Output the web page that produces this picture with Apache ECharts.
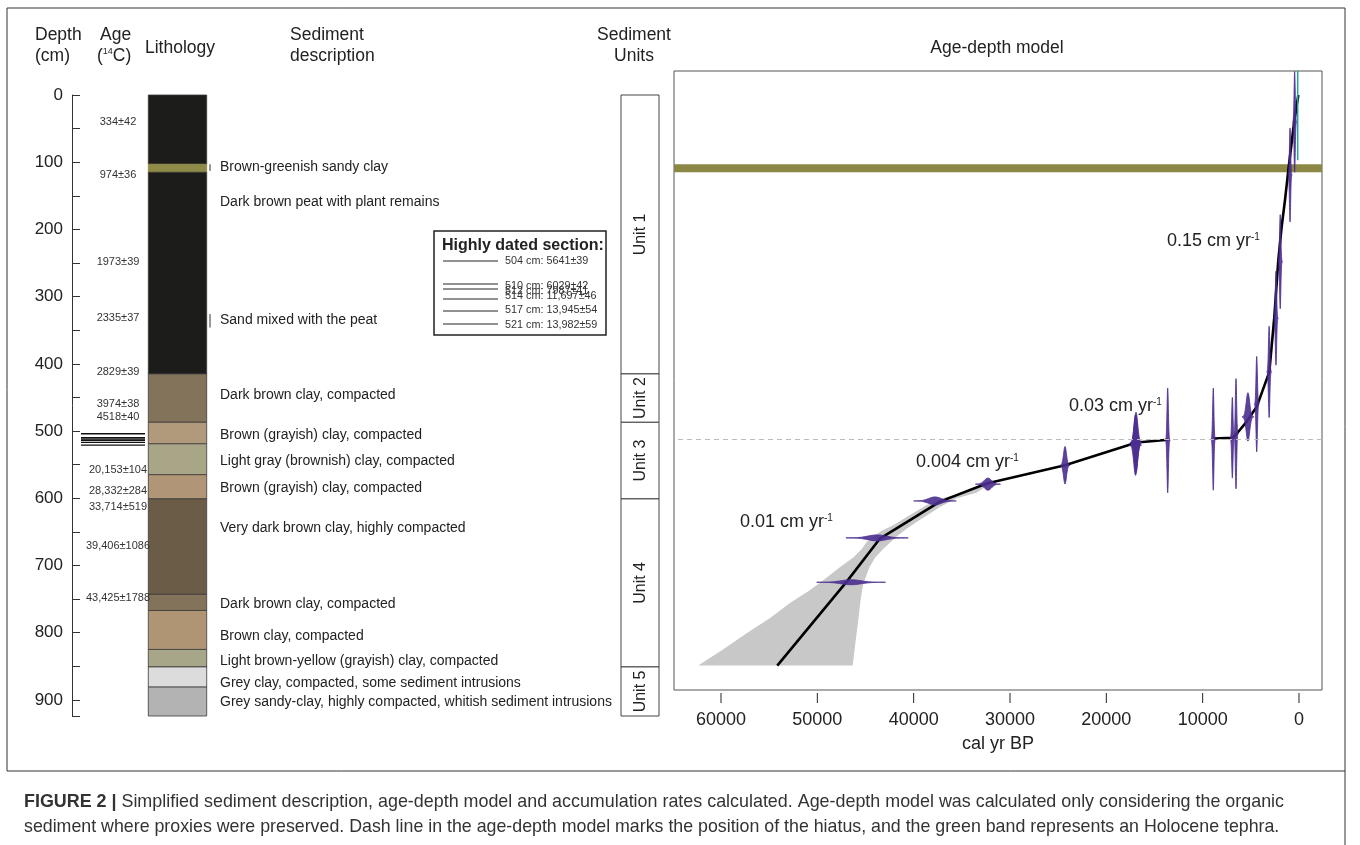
<!DOCTYPE html>
<html><head><meta charset="utf-8">
<script src="https://cdn.jsdelivr.net/npm/echarts@6/dist/echarts.min.js"></script>
<style>html,body{margin:0;padding:0;background:#fff}#c{width:1360px;height:845px}</style>
</head><body><div id="c"></div>
<script>
const FONT = '"Liberation Sans", Arial, Helvetica, sans-serif';
const INK = '#222';

// ---------- left panel: depth axis ----------
const depthTicks = [0,50,100,150,200,250,300,350,400,450,500,550,600,650,700,750,800,850,900,924];
const depthLabels = [0,100,200,300,400,500,600,700,800,900];

// ---------- lithology ----------
const lithTop    = [0,   103,   115, 415,     487,     519,     565,     601,      743,     767,   825,      851,  881];
const lithBottom = [103, 115,   415, 487,     519,     565,     601,     743,      767,     825,   851,      881,  924];
const lithType   = ['peat','tephra','peat','dkbrown','brgray','ltgray','brgray2','vdkbrown','dkbrown','brown','ltyellow','grey','greysandy'];
const lithColors = {peat:'#1c1c1a', tephra:'#8f8a48', dkbrown:'#83735a', brgray:'#b19a7b', ltgray:'#a9a688',
  brgray2:'#b09676', vdkbrown:'#6b5c48', brown:'#b09574', ltyellow:'#a8a688', grey:'#dcdcdc', greysandy:'#b3b3b3'};

// ---------- radiocarbon ages in the age column ----------
const ageLabelDepths = [40, 119, 248, 332, 412, 460, 479, 558, 589, 613, 671, 748];
const ageLabels = ['334±42','974±36','1973±39','2335±37','2829±39','3974±38','4518±40','20,153±104','28,332±284','33,714±519','39,406±1086','43,425±1788'];

// highly dated section
const highlyDatedDepths = [504, 510, 512, 514, 517, 521];
const highlyDatedAges = ['5641±39','6029±42','7987±41','11,697±46','13,945±54','13,982±59'];

// ---------- sediment description ----------
const descDepths = [107, 159, 335, 446, 506, 545, 585, 645, 757, 805, 842, 875, 903];
const descTexts = ['Brown-greenish sandy clay','Dark brown peat with plant remains','Sand mixed with the peat',
  'Dark brown clay, compacted','Brown (grayish) clay, compacted','Light gray (brownish) clay, compacted',
  'Brown (grayish) clay, compacted','Very dark brown clay, highly compacted','Dark brown clay, compacted',
  'Brown clay, compacted','Light brown-yellow (grayish) clay, compacted','Grey clay, compacted, some sediment intrusions',
  'Grey sandy-clay, highly compacted, whitish sediment intrusions'];
const thinLayerTop = [103, 326];
const thinLayerBottom = [113, 346];

// ---------- sediment units ----------
const unitNames = ['Unit 1','Unit 2','Unit 3','Unit 4','Unit 5'];
const unitTop = [0, 415, 487, 601, 851];
const unitBottom = [415, 487, 601, 851, 924];

// ---------- age-depth model ----------
const ageTicks = [0,10000,20000,30000,40000,50000,60000];
const meanAge   = [70, 520, 1110, 1450, 1800, 2150, 2390, 2560, 3080, 4390, 5430, 6640, 6890, 8900, null, 13570, 16850, 24290, 32420, 37270, 43500, 46950, 54160];
const meanDepth = [0,  42,  112,  156,  196,  246,  295,  330,  412,  464,  486,  507,  510,  511,  null, 513,   517,   551,   578,   605,   660,   724,   849];
const bandLeftAge    = [62360, 59800, 57340, 54900, 52840, 50900, 49380, 47700, 46270, 45400, 44880, 43500, 42000, 40730, 38650, 36570, 34000, 32000];
const bandLeftDepth  = [849,   825,   801,   778,   756,   738,   722,   703,   688,   676,   665,   650,   639,   628,   610,   598,   588,   576];
const bandRightAge   = [32000, 33500, 35530, 37270, 39340, 40700, 41760, 43150, 44000, 44600, 45230, 45500, 45750, 46050, 46330];
const bandRightDepth = [578,   592,   600,   613,   632,   645,   657,   675,   688,   703,   727,   750,   781,   815,   849];
// calibrated date distributions: centre age, depth, spread (yr), drawn height (cm)
const dateAge    = [450, 930, 1950, 2390, 3100, 4390, 5300, 6540, 6920, 8900, 13630, 16920, 16970, 24290, 32290, 37790, 43800, 46500];
const dateDepth  = [40,  119, 248,  332,  412,  460,  479,  504,  510,  512,  514,   517,   521,   551,   579,   604,   659,   725];
const dateSpread = [60,  60,  65,   65,   70,   70,   180,  65,   65,   65,   70,    180,   180,   150,   380,   650,   950,   1050];
const dateHeight = [75,  70,  70,   70,   68,   71,   36,   82,   60,   76,   78,    45,    45,    28,    9,     6,     4.5,   3.7];
const tephraTop = 103, tephraBottom = 115;
const hiatusDepth = 512;
const surfaceAge = 135, surfaceTop = -36, surfaceBottom = 97;
const rateLabels = ['0.15 cm yr','0.03 cm yr','0.004 cm yr','0.01 cm yr'];

// ================= build =================
const chart = echarts.init(document.getElementById('c'));

function leftText(xOff, depths, texts, style) {
  return {
    type: 'custom', xAxisIndex: 0, yAxisIndex: 0, silent: true, z: 5,
    data: depths.map((d) => [xOff, d]),
    renderItem(params, api) {
      const p = api.coord([api.value(0), api.value(1)]);
      return {type: 'text', x: p[0], y: p[1],
        style: Object.assign({text: texts[params.dataIndex], fontFamily: FONT, fill: INK, verticalAlign: 'middle'}, style)};
    }
  };
}

// mean line split at the hiatus
const meanSegments = [[]];
meanAge.forEach((a, i) => {
  if (a === null) meanSegments.push([]);
  else meanSegments[meanSegments.length - 1].push([a, meanDepth[i]]);
});

const series = [
  // lithology column
  {
    type: 'custom', xAxisIndex: 0, yAxisIndex: 0, silent: true, z: 2,
    data: lithTop.map((t, i) => [t, lithBottom[i]]),
    renderItem(params, api) {
      const p1 = api.coord([76.3, api.value(0)]), p2 = api.coord([134.7, api.value(1)]);
      const tp = lithType[params.dataIndex];
      return {type: 'rect', shape: {x: p1[0], y: p1[1], width: p2[0] - p1[0], height: p2[1] - p1[1]},
        style: {fill: lithColors[tp], stroke: tp === 'tephra' ? lithColors[tp] : '#3a3a3a', lineWidth: 0.8}};
    }
  },
  // sediment units
  {
    type: 'custom', xAxisIndex: 0, yAxisIndex: 0, silent: true, z: 2,
    data: unitTop.map((t, i) => [t, unitBottom[i]]),
    renderItem(params, api) {
      const p1 = api.coord([549, api.value(0)]), p2 = api.coord([587, api.value(1)]);
      return {type: 'group', children: [
        {type: 'rect', shape: {x: p1[0], y: p1[1], width: p2[0] - p1[0], height: p2[1] - p1[1]},
          style: {fill: '#fff', stroke: '#444', lineWidth: 1}},
        {type: 'text', x: (p1[0] + p2[0]) / 2 + 1, y: (p1[1] + p2[1]) / 2, rotation: Math.PI / 2,
          style: {text: unitNames[params.dataIndex], align: 'center', verticalAlign: 'middle', fontSize: 16, fontFamily: FONT, fill: INK}}
      ]};
    }
  },
  // highly dated depths in age column
  {
    type: 'custom', xAxisIndex: 0, yAxisIndex: 0, silent: true, z: 3,
    data: highlyDatedDepths.map((d) => [d]),
    renderItem(params, api) {
      const p1 = api.coord([9, api.value(0)]), p2 = api.coord([73, api.value(0)]);
      return {type: 'line', shape: {x1: p1[0], y1: p1[1], x2: p2[0], y2: p2[1]}, style: {stroke: '#111', lineWidth: 1.3}};
    }
  },
  // thin layer marks beside lithology
  {
    type: 'custom', xAxisIndex: 0, yAxisIndex: 0, silent: true, z: 3,
    data: thinLayerTop.map((t, i) => [t, thinLayerBottom[i]]),
    renderItem(params, api) {
      const p1 = api.coord([138, api.value(0)]), p2 = api.coord([138, api.value(1)]);
      return {type: 'line', shape: {x1: p1[0], y1: p1[1], x2: p2[0], y2: p2[1]}, style: {stroke: '#333', lineWidth: 1}};
    }
  },
  leftText(46, ageLabelDepths, ageLabels, {fontSize: 11, align: 'center', fill: '#333'}),
  leftText(148, descDepths, descTexts, {fontSize: 14, align: 'left'}),

  // ---- model ----
  // uncertainty band
  {
    type: 'custom', xAxisIndex: 1, yAxisIndex: 1, silent: true, z: 1, clip: true,
    data: [[bandLeftAge[0], bandLeftDepth[0]]],
    renderItem(params, api) {
      const pts = [];
      bandLeftAge.forEach((a, i) => pts.push(api.coord([a, bandLeftDepth[i]])));
      bandRightAge.forEach((a, i) => pts.push(api.coord([a, bandRightDepth[i]])));
      return {type: 'polygon', shape: {points: pts}, style: {fill: '#c8c8c8', stroke: 'none'}};
    }
  },
  // age-axis ticks (drawn below the frame, like the original)
  {
    type: 'custom', xAxisIndex: 1, yAxisIndex: 1, silent: true, z: 2, clip: false,
    data: ageTicks.map((a) => [a]),
    renderItem(params, api) {
      const p = api.coord([api.value(0), 885.3]);
      return {type: 'line', shape: {x1: p[0], y1: p[1] + 3, x2: p[0], y2: p[1] + 13}, style: {stroke: '#222', lineWidth: 1}};
    }
  },
  // tephra band + hiatus line
  {
    type: 'line', xAxisIndex: 1, yAxisIndex: 1, data: [], silent: true, z: 2,
    markArea: {silent: true, itemStyle: {color: '#8c8744', opacity: 1}, data: [[{yAxis: tephraTop}, {yAxis: tephraBottom}]]},
    markLine: {silent: true, symbol: 'none', label: {show: false},
      lineStyle: {color: '#bdbdbd', type: [5, 4], width: 1}, data: [{yAxis: hiatusDepth}]}
  },
  ...meanSegments.map((seg) => ({
    type: 'line', xAxisIndex: 1, yAxisIndex: 1, data: seg, symbol: 'none', silent: true, z: 3,
    lineStyle: {color: '#000', width: 2.6}
  })),
  // date distributions
  {
    type: 'custom', xAxisIndex: 1, yAxisIndex: 1, silent: true, z: 4, clip: true,
    data: dateAge.map((a, i) => [a, dateDepth[i], dateSpread[i], dateHeight[i]]),
    renderItem(params, api) {
      const a = api.value(0), d = api.value(1), s = api.value(2), h = api.value(3);
      const N = 48, top = [], bot = [];
      for (let i = 0; i <= N; i++) {
        const t = -3.4 + 6.8 * i / N, g = h * Math.exp(-t * t / 2);
        top.push(api.coord([a + t * s, d - g]));
        bot.unshift(api.coord([a + t * s, d + g]));
      }
      return {type: 'polygon', shape: {points: top.concat(bot)},
        style: {fill: '#4b2d8f', stroke: '#4b2d8f', lineWidth: 0.9, opacity: 0.9}};
    }
  },
  // surface marker
  {
    type: 'line', xAxisIndex: 1, yAxisIndex: 1, symbol: 'none', silent: true, z: 5,
    data: [[surfaceAge, surfaceTop], [surfaceAge, surfaceBottom]], lineStyle: {color: '#1fa3a3', width: 1.5}
  }
];

const txt = (x, y, text, extra) => ({type: 'text', x, y, silent: true,
  style: Object.assign({text, fontFamily: FONT, fontSize: 17.5, fill: INK, verticalAlign: 'middle'}, extra || {})});
const line = (x1, y1, x2, y2, w, c) => ({type: 'line', silent: true, shape: {x1, y1, x2, y2}, style: {stroke: c || '#333', lineWidth: w || 1}});

const rate = (x, y, s) => ({type: 'text', x, y, silent: true,
  style: {text: '{b|' + s + '}{s|-1}', verticalAlign: 'middle', fill: INK,
    rich: {b: {fontSize: 18, fontFamily: FONT, fill: INK}, s: {fontSize: 10, fontFamily: FONT, fill: INK, verticalAlign: 'top'}}}});

// highly dated inset
const boxTexts = [];
const boxTextY = [261, 286, 291, 296, 310, 325];
const boxLineY = [261, 284, 289, 299, 311, 324];
highlyDatedDepths.forEach((d, i) => {
  boxTexts.push(line(443, boxLineY[i], 498, boxLineY[i], 1, '#222'));
  boxTexts.push(txt(505, boxTextY[i], d + ' cm: ' + highlyDatedAges[i], {fontSize: 10.8, fill: '#333'}));
});

const graphic = [
  // frame
  line(7, 8, 1345, 8), line(7, 8, 7, 771), line(1345, 8, 1345, 845), line(7, 771, 1345, 771),
  // headers
  txt(35, 35, 'Depth'), txt(35, 56, '(cm)'),
  txt(100, 35, 'Age'),
  {type: 'text', x: 97, y: 56, silent: true, style: {text: '{n|(}{s|14}{n|C)}', verticalAlign: 'middle',
    rich: {n: {fontSize: 17.5, fontFamily: FONT, fill: INK}, s: {fontSize: 9, fontFamily: FONT, fill: INK, verticalAlign: 'top'}}}},
  txt(145, 48, 'Lithology'),
  txt(290, 35, 'Sediment'), txt(290, 56, 'description'),
  txt(634, 35, 'Sediment', {align: 'center'}), txt(634, 56, 'Units', {align: 'center'}),
  txt(997, 48, 'Age-depth model', {align: 'center'}),
  // inset box
  {type: 'rect', silent: true, shape: {x: 434, y: 231, width: 172, height: 104}, style: {fill: '#fff', stroke: '#222', lineWidth: 1.5}},
  txt(442, 246, 'Highly dated section:', {fontSize: 16, fontWeight: 'bold'}),
  ...boxTexts,
  // accumulation rates
  rate(1167, 241, rateLabels[0]), rate(1069, 406, rateLabels[1]), rate(916, 462, rateLabels[2]), rate(740, 522, rateLabels[3]),
  // caption
  {type: 'text', x: 24, y: 802, silent: true, style: {
    text: '{b|FIGURE 2 |}{n| Simplified sediment description, age-depth model and accumulation rates calculated. Age-depth model was calculated only considering the organic}',
    verticalAlign: 'middle', rich: {b: {fontSize: 17.9, fontWeight: 'bold', fontFamily: FONT, fill: '#333'}, n: {fontSize: 17.9, fontFamily: FONT, fill: '#333'}}}},
  txt(24, 827, 'sediment where proxies were preserved. Dash line in the age-depth model marks the position of the hiatus, and the green band represents an Holocene tephra.', {fontSize: 17.8, fill: '#333'})
];

chart.setOption({
  animation: false,
  backgroundColor: '#fff',
  grid: [
    {left: 72, top: 95, width: 588, height: 621, show: false},
    {left: 674, top: 71, width: 648, height: 619, show: true, borderColor: '#555', borderWidth: 1, backgroundColor: 'transparent'}
  ],
  xAxis: [
    {gridIndex: 0, type: 'value', min: 0, max: 588, show: false},
    {gridIndex: 1, type: 'value', min: -2388, max: 64880, inverse: true, position: 'bottom',
      splitLine: {show: false}, axisLine: {show: false}, axisTick: {show: false},
      axisLabel: {customValues: ageTicks, fontSize: 18, fontFamily: FONT, color: INK, margin: 21, formatter: (v) => String(v)},
      name: 'cal yr BP', nameLocation: 'middle', nameGap: 45, nameTextStyle: {fontSize: 18, fontFamily: FONT, color: INK}}
  ],
  yAxis: [
    {gridIndex: 0, type: 'value', min: 0, max: 924, inverse: true, splitLine: {show: false},
      axisLine: {show: true, lineStyle: {color: '#333', width: 1}},
      axisTick: {show: true, inside: true, length: 8, customValues: depthTicks, lineStyle: {color: '#333'}},
      axisLabel: {customValues: depthLabels, fontSize: 17, fontFamily: FONT, color: INK, margin: 9}},
    {gridIndex: 1, type: 'value', min: -35.7, max: 885.3, inverse: true, show: false}
  ],
  graphic,
  series
});
</script></body></html>
